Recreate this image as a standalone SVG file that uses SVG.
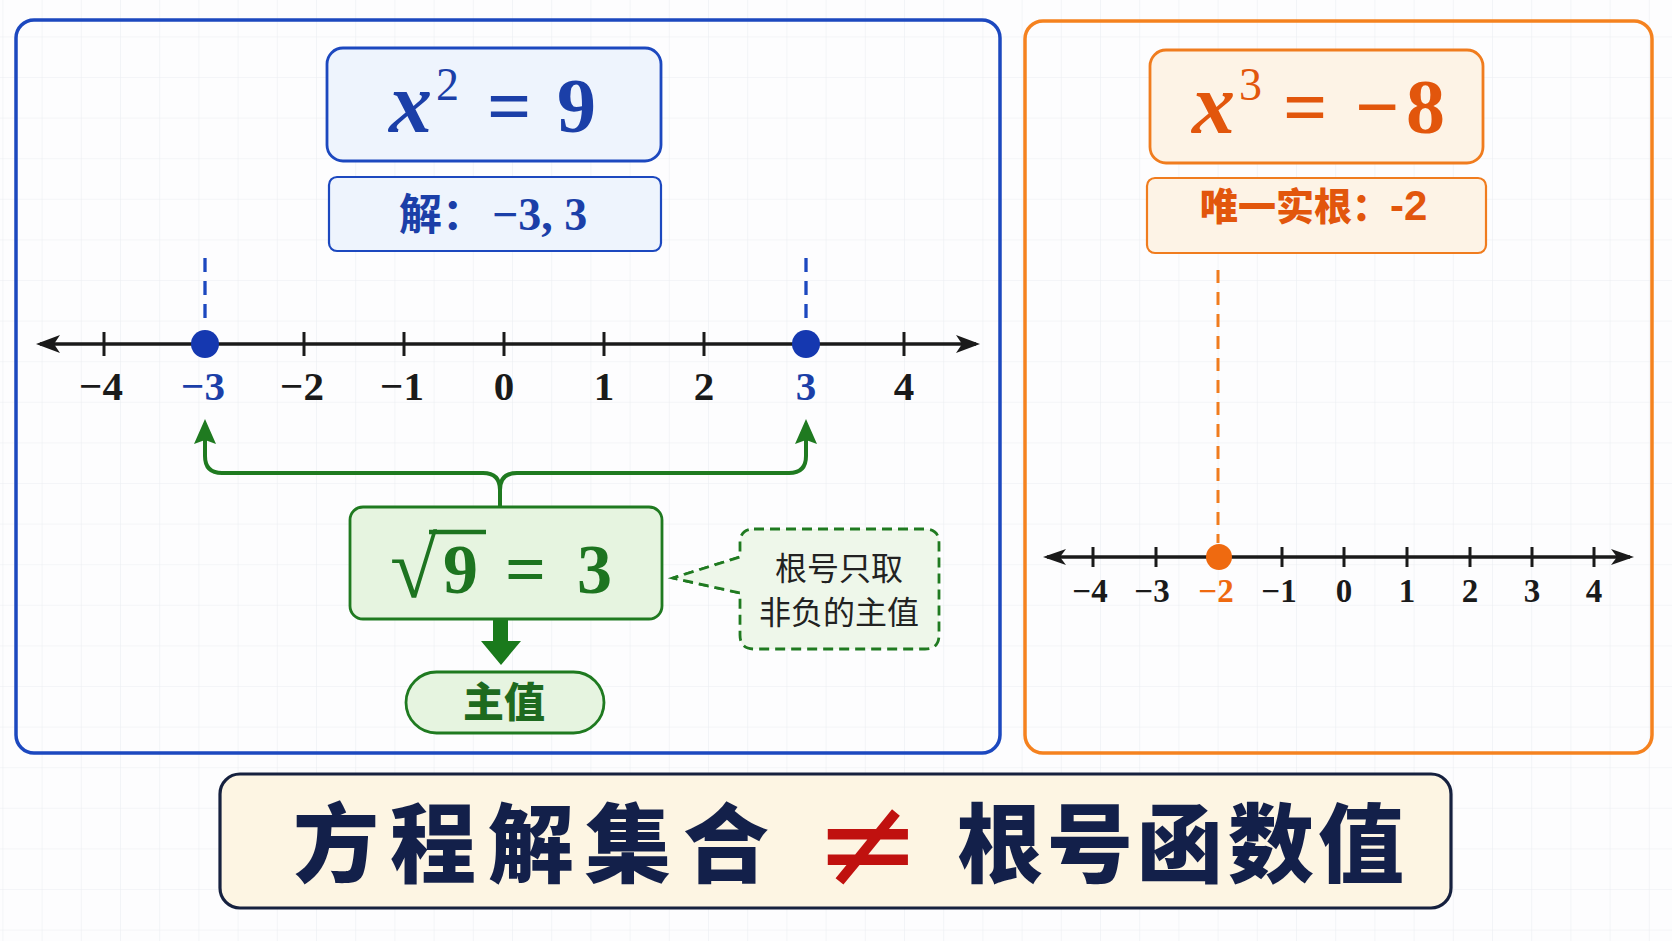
<svg xmlns="http://www.w3.org/2000/svg" width="1672" height="941" viewBox="0 0 1672 941">
<defs>
<pattern id="grid" width="39.2" height="40.6" patternUnits="userSpaceOnUse" x="2.4" y="36.4">
<path d="M39.2 0 L0 0 0 40.6" fill="none" stroke="#eceef2" stroke-width="1.2"/>
</pattern>
<style>
.serif{font-family:"Liberation Serif","Times New Roman",serif}
.cjk{font-family:"Noto Sans CJK SC","Noto Sans",sans-serif}
.nl{stroke:#1a1a1a;stroke-width:3.5;fill:none}
.tick{stroke:#1a1a1a;stroke-width:3}
.lblB{font-family:"Liberation Serif",serif;font-weight:bold;font-size:41px;fill:#1a1a1a;text-anchor:middle}
.lblO{font-family:"Liberation Serif",serif;font-weight:bold;font-size:33px;fill:#1a1a1a;text-anchor:middle}
.blue{fill:#1b3fa8}
.orange{fill:#e2560c}
.green{fill:#1d7420}
</style>
</defs>
<rect width="1672" height="941" fill="#fdfdfe"/>
<rect width="1672" height="941" fill="url(#grid)"/>

<!-- panels -->
<g id="panel-left">
<rect x="16" y="20" width="984" height="733" rx="18" fill="none" stroke="#1c48bf" stroke-width="3.5"/>
</g>
<g id="panel-right">
<rect x="1025" y="21" width="627" height="732" rx="18" fill="none" stroke="#f5821f" stroke-width="3.5"/>
</g>

<!-- left: equation -->
<g id="eq-left">
<rect x="327" y="48" width="334" height="113" rx="16" fill="#eef4fd" stroke="#1c48bf" stroke-width="2.8"/>
<text class="serif blue" x="389" y="132" font-size="86" font-style="italic" font-weight="bold">x</text>
<text class="serif blue" x="436" y="100" font-size="46">2</text>
<text class="serif blue" x="487" y="132" font-size="78" font-weight="bold">=</text>
<text class="serif blue" x="557" y="132" font-size="78" font-weight="bold">9</text>
</g>
<g id="sol-left">
<rect x="329" y="177" width="332" height="74" rx="8" fill="#eef4fd" stroke="#1c48bf" stroke-width="2.2"/>
<text x="399" y="230" class="blue"><tspan class="cjk" font-size="43" font-weight="bold">解：</tspan><tspan class="serif" font-size="46" font-weight="bold" x="492">−3, 3</tspan></text>
</g>

<!-- left number line -->
<g id="numberline-left">
<line x1="40" y1="344" x2="976" y2="344" class="nl"/>
<path d="M36,344 L60,335 L54,344 L60,353 Z" fill="#1a1a1a"/>
<path d="M980,344 L956,335 L962,344 L956,353 Z" fill="#1a1a1a"/>
<g class="tick">
<line x1="104" y1="332" x2="104" y2="356"/>
<line x1="304" y1="332" x2="304" y2="356"/>
<line x1="404" y1="332" x2="404" y2="356"/>
<line x1="504" y1="332" x2="504" y2="356"/>
<line x1="604" y1="332" x2="604" y2="356"/>
<line x1="704" y1="332" x2="704" y2="356"/>
<line x1="904" y1="332" x2="904" y2="356"/>
</g>
<text class="lblB" x="101" y="400">−4</text>
<text class="lblB" x="203" y="400" style="fill:#1b3fa8">−3</text>
<text class="lblB" x="302" y="400">−2</text>
<text class="lblB" x="402" y="400">−1</text>
<text class="lblB" x="504" y="400">0</text>
<text class="lblB" x="604" y="400">1</text>
<text class="lblB" x="704" y="400">2</text>
<text class="lblB" x="806" y="400" style="fill:#1b3fa8">3</text>
<text class="lblB" x="904" y="400">4</text>
<line x1="205" y1="258" x2="205" y2="324" stroke="#1c48bf" stroke-width="3.3" stroke-dasharray="14 9"/>
<line x1="806" y1="258" x2="806" y2="324" stroke="#1c48bf" stroke-width="3.3" stroke-dasharray="14 9"/>
<circle cx="205" cy="344" r="14" fill="#1538b0"/>
<circle cx="806" cy="344" r="14" fill="#1538b0"/>
</g>

<!-- connectors -->
<g id="connectors">
<path d="M500,507 V490 Q500,473 483,473 H222 Q205,473 205,456 V440" fill="none" stroke="#1f7a20" stroke-width="4"/>
<path d="M500,490 Q500,473 517,473 H789 Q806,473 806,456 V440" fill="none" stroke="#1f7a20" stroke-width="4"/>
<path d="M205,419 L194,444 L205,440 L216,444 Z" fill="#1f7a20"/>
<path d="M806,419 L795,444 L806,440 L817,444 Z" fill="#1f7a20"/>
<path d="M493,619 H508 V641 H521 L501,665 L481,641 H493 Z" fill="#1a7a1c"/>
<path d="M740,593 L673,578 L740,557" fill="none" stroke="#1f7a20" stroke-width="2.8" stroke-dasharray="10 6"/>
<line x1="1218" y1="270" x2="1218" y2="543" stroke="#f07c1e" stroke-width="3" stroke-dasharray="13 9"/>
</g>

<!-- sqrt box -->
<g id="sqrt-box">
<rect x="350" y="507" width="312" height="112" rx="13" fill="#e6f4e0" stroke="#1f7a20" stroke-width="2.8"/>
<text class="serif green" font-weight="bold"><tspan x="390" y="597" font-size="86">√</tspan><tspan x="443" y="593" font-size="70">9</tspan><tspan x="505" y="593" font-size="72">=</tspan><tspan x="577" y="593" font-size="70">3</tspan></text>
<line x1="429" y1="532" x2="486" y2="532" stroke="#1d7420" stroke-width="4.5"/>
</g>

<!-- principal value pill -->
<g id="principal">
<rect x="406" y="672" width="198" height="61" rx="30.5" fill="#e6f4e0" stroke="#1f7a20" stroke-width="2.8"/>
<text class="cjk" x="504" y="717" font-size="41" font-weight="900" text-anchor="middle" fill="#1e6a1f">主值</text>
</g>

<!-- callout -->
<g id="callout">
<path d="M754,529 H925 Q939,529 939,543 V635 Q939,649 925,649 H754 Q740,649 740,635 V593 L673,578 L740,557 V543 Q740,529 754,529 Z" fill="#eef7ea" stroke="#1f7a20" stroke-width="2.8" stroke-dasharray="10 6" stroke-linejoin="round"/>
<text class="cjk" x="839" y="580" font-size="32" text-anchor="middle" fill="#222">根号只取</text>
<text class="cjk" x="839" y="624" font-size="32" text-anchor="middle" fill="#222">非负的主值</text>
</g>

<!-- right: equation -->
<g id="eq-right">
<rect x="1150" y="50" width="333" height="113" rx="16" fill="#fdf3e6" stroke="#f07c1e" stroke-width="2.8"/>
<text class="serif orange" x="1192" y="133" font-size="86" font-style="italic" font-weight="bold">x</text>
<text class="serif orange" x="1239" y="100" font-size="46">3</text>
<text class="serif orange" x="1283" y="133" font-size="78" font-weight="bold">=</text>
<text class="serif orange" x="1355" y="133" font-size="78" font-weight="bold">−</text>
<text class="serif orange" x="1406" y="133" font-size="78" font-weight="bold">8</text>
</g>
<g id="sol-right">
<rect x="1147" y="178" width="339" height="75" rx="8" fill="#fdf3e6" stroke="#f07c1e" stroke-width="2.2"/>
<text class="cjk orange" x="1200" y="220" font-size="38" font-weight="900">唯一实根：<tspan font-family="Liberation Sans,Arial,sans-serif" font-weight="bold" font-size="42">-2</tspan></text>
</g>

<!-- right number line -->
<g id="numberline-right">
<line x1="1047" y1="557" x2="1630" y2="557" class="nl"/>
<path d="M1043,557 L1066,549 L1060,557 L1066,565 Z" fill="#1a1a1a"/>
<path d="M1634,557 L1611,549 L1617,557 L1611,565 Z" fill="#1a1a1a"/>
<g class="tick">
<line x1="1093" y1="547" x2="1093" y2="567"/>
<line x1="1156" y1="547" x2="1156" y2="567"/>
<line x1="1282" y1="547" x2="1282" y2="567"/>
<line x1="1344" y1="547" x2="1344" y2="567"/>
<line x1="1407" y1="547" x2="1407" y2="567"/>
<line x1="1470" y1="547" x2="1470" y2="567"/>
<line x1="1532" y1="547" x2="1532" y2="567"/>
<line x1="1594" y1="547" x2="1594" y2="567"/>
</g>
<text class="lblO" x="1090" y="602">−4</text>
<text class="lblO" x="1152" y="602">−3</text>
<text class="lblO" x="1216" y="602" style="fill:#ef6a10">−2</text>
<text class="lblO" x="1279" y="602">−1</text>
<text class="lblO" x="1344" y="602">0</text>
<text class="lblO" x="1407" y="602">1</text>
<text class="lblO" x="1470" y="602">2</text>
<text class="lblO" x="1532" y="602">3</text>
<text class="lblO" x="1594" y="602">4</text>
<circle cx="1219" cy="557" r="13" fill="#ef6a10"/>
</g>

<!-- bottom conclusion -->
<g id="conclusion">
<rect x="220" y="774" width="1231" height="134" rx="20" fill="#fdf5e3" stroke="#16213f" stroke-width="3.2"/>
<text class="cjk" y="876" font-size="86" font-weight="900" fill="#13204a" x="293 390 488 585 683">方程解集合</text>
<text font-family="DejaVu Sans,sans-serif" font-size="128" fill="#c0110f" x="814" y="887">≠</text>
<text class="cjk" y="876" font-size="86" font-weight="900" fill="#13204a" x="957 1047 1137 1228 1318">根号函数值</text>
</g>
</svg>
